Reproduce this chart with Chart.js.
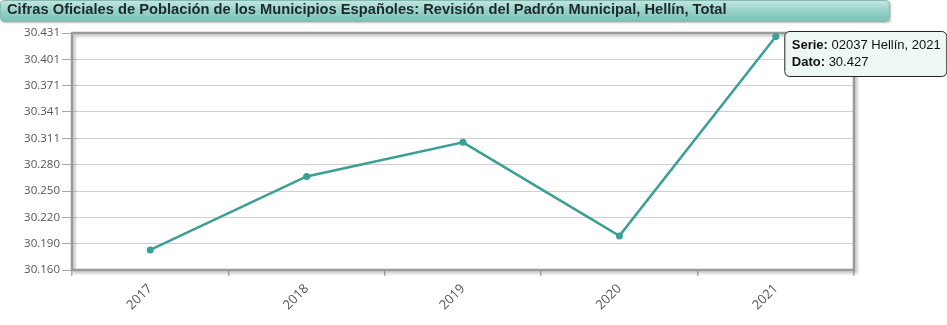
<!DOCTYPE html>
<html lang="es">
<head>
<meta charset="utf-8">
<script src="https://cdn.jsdelivr.net/npm/chart.js@4/dist/chart.umd.min.js"></script>
<style>
  html, body { margin: 0; padding: 0; background: #fff; }
  #wrap { position: relative; width: 947px; height: 325px; }
  #titulo {
    position: absolute; left: 0; top: 0; width: 882px; height: 20px;
    padding-left: 6px; line-height: 20px;
    font: bold 14.7px "Liberation Sans", Arial, sans-serif; color: #1e2a2a;
    background: linear-gradient(to bottom, #bfe6df 0%, #93d0c6 55%, #7dc2b7 100%);
    border: 1px solid #86b9b1; border-radius: 4px;
    box-shadow: 1px 1px 2px rgba(0,0,0,0.25);
    white-space: nowrap;
    z-index: 2;
  }
  canvas { position: absolute; left: 0; top: 0; }
</style>
</head>
<body>
<div id="wrap">
  <div id="titulo">Cifras Oficiales de Población de los Municipios Españoles: Revisión del Padrón Municipal, Hellín, Total</div>
  <canvas id="c" width="947" height="325"></canvas>
</div>
<script>
// Padrón municipal de Hellín (02037), población total por año
const years = ['2017', '2018', '2019', '2020', '2021'];
const population = [30183, 30267, 30306, 30199, 30427];
const yTickValues = [30160, 30190.11, 30220.22, 30250.33, 30280.44, 30310.56, 30340.67, 30370.78, 30400.89, 30431];
const seriesName = '02037 Hellín';
const highlighted = 4; // año mostrado en la ficha de dato

const teal = '#3a9f94';

const fmt = v => Math.round(v).toLocaleString('de-DE');

// Marco del área de trazado con sombra
const frame = {
  id: 'frame',
  beforeDatasetsDraw(chart) {
    const { ctx, chartArea: a } = chart;
    ctx.save();
    ctx.shadowColor = 'rgba(0,0,0,0.28)';
    ctx.shadowBlur = 3;
    ctx.shadowOffsetX = 2;
    ctx.shadowOffsetY = 2;
    ctx.strokeStyle = '#9a9a9a';
    ctx.lineWidth = 2.5;
    ctx.strokeRect(a.left, a.top, a.right - a.left, a.bottom - a.top);
    ctx.restore();
  }
};

// Ficha de dato junto al punto destacado
const ficha = {
  id: 'ficha',
  afterDraw(chart) {
    const { ctx } = chart;
    const pt = chart.getDatasetMeta(0).data[highlighted];
    const x = pt.x + 9, y = pt.y - 5, w = 162, h = 45, r = 5;
    ctx.save();
    ctx.beginPath();
    ctx.roundRect(x, y, w, h, r);
    ctx.fillStyle = '#edf8f3';
    ctx.fill();
    ctx.lineWidth = 1;
    ctx.strokeStyle = '#222';
    ctx.stroke();
    ctx.textBaseline = 'alphabetic';
    ctx.fillStyle = '#111';
    const lines = [
      ['Serie:', ' ' + seriesName + ', ' + years[highlighted]],
      ['Dato:', ' ' + fmt(population[highlighted])]
    ];
    lines.forEach((l, i) => {
      const ty = y + 18 + i * 17;
      ctx.font = 'bold 13px "Liberation Sans", Arial, sans-serif';
      ctx.fillText(l[0], x + 7, ty);
      const bw = ctx.measureText(l[0]).width;
      ctx.font = '13px "Liberation Sans", Arial, sans-serif';
      ctx.fillText(l[1], x + 7 + bw, ty);
    });
    ctx.restore();
  }
};

new Chart(document.getElementById('c'), {
  type: 'line',
  data: {
    labels: years,
    datasets: [{
      data: population,
      borderColor: teal,
      backgroundColor: teal,
      borderWidth: 2.5,
      pointRadius: 3.5,
      pointBackgroundColor: teal,
      pointBorderWidth: 0,
      tension: 0,
      fill: false
    }]
  },
  options: {
    responsive: false,
    animation: false,
    events: [],
    layout: { padding: { top: 33, right: 93, left: 0, bottom: 0 } },
    plugins: { legend: { display: false }, tooltip: { enabled: false }, title: { display: false } },
    scales: {
      x: {
        offset: true,
        border: { display: false },
        grid: { display: true, drawOnChartArea: false, offset: true, tickLength: 6, color: '#b5b5b5', lineWidth: 1.5 },
        ticks: {
          maxRotation: 45, minRotation: 45, padding: 5,
          color: '#555',
          font: { family: '"Open Sans", "DejaVu Sans", sans-serif', size: 13 }
        },
        afterFit(s) { s.height = 55; }
      },
      y: {
        min: 30160, max: 30431,
        border: { display: false },
        grid: { color: '#cfcfcf', lineWidth: 1, tickLength: 10, tickColor: '#a8a8a8' },
        afterBuildTicks(s) { s.ticks = yTickValues.map(v => ({ value: v })); },
        ticks: {
          color: '#555', padding: 2,
          font: { family: '"Open Sans", "DejaVu Sans", sans-serif', size: 11.5 },
          callback: v => fmt(v)
        },
        afterFit(s) { s.width = 72; }
      }
    }
  },
  plugins: [frame, ficha]
});
</script>
</body>
</html>
